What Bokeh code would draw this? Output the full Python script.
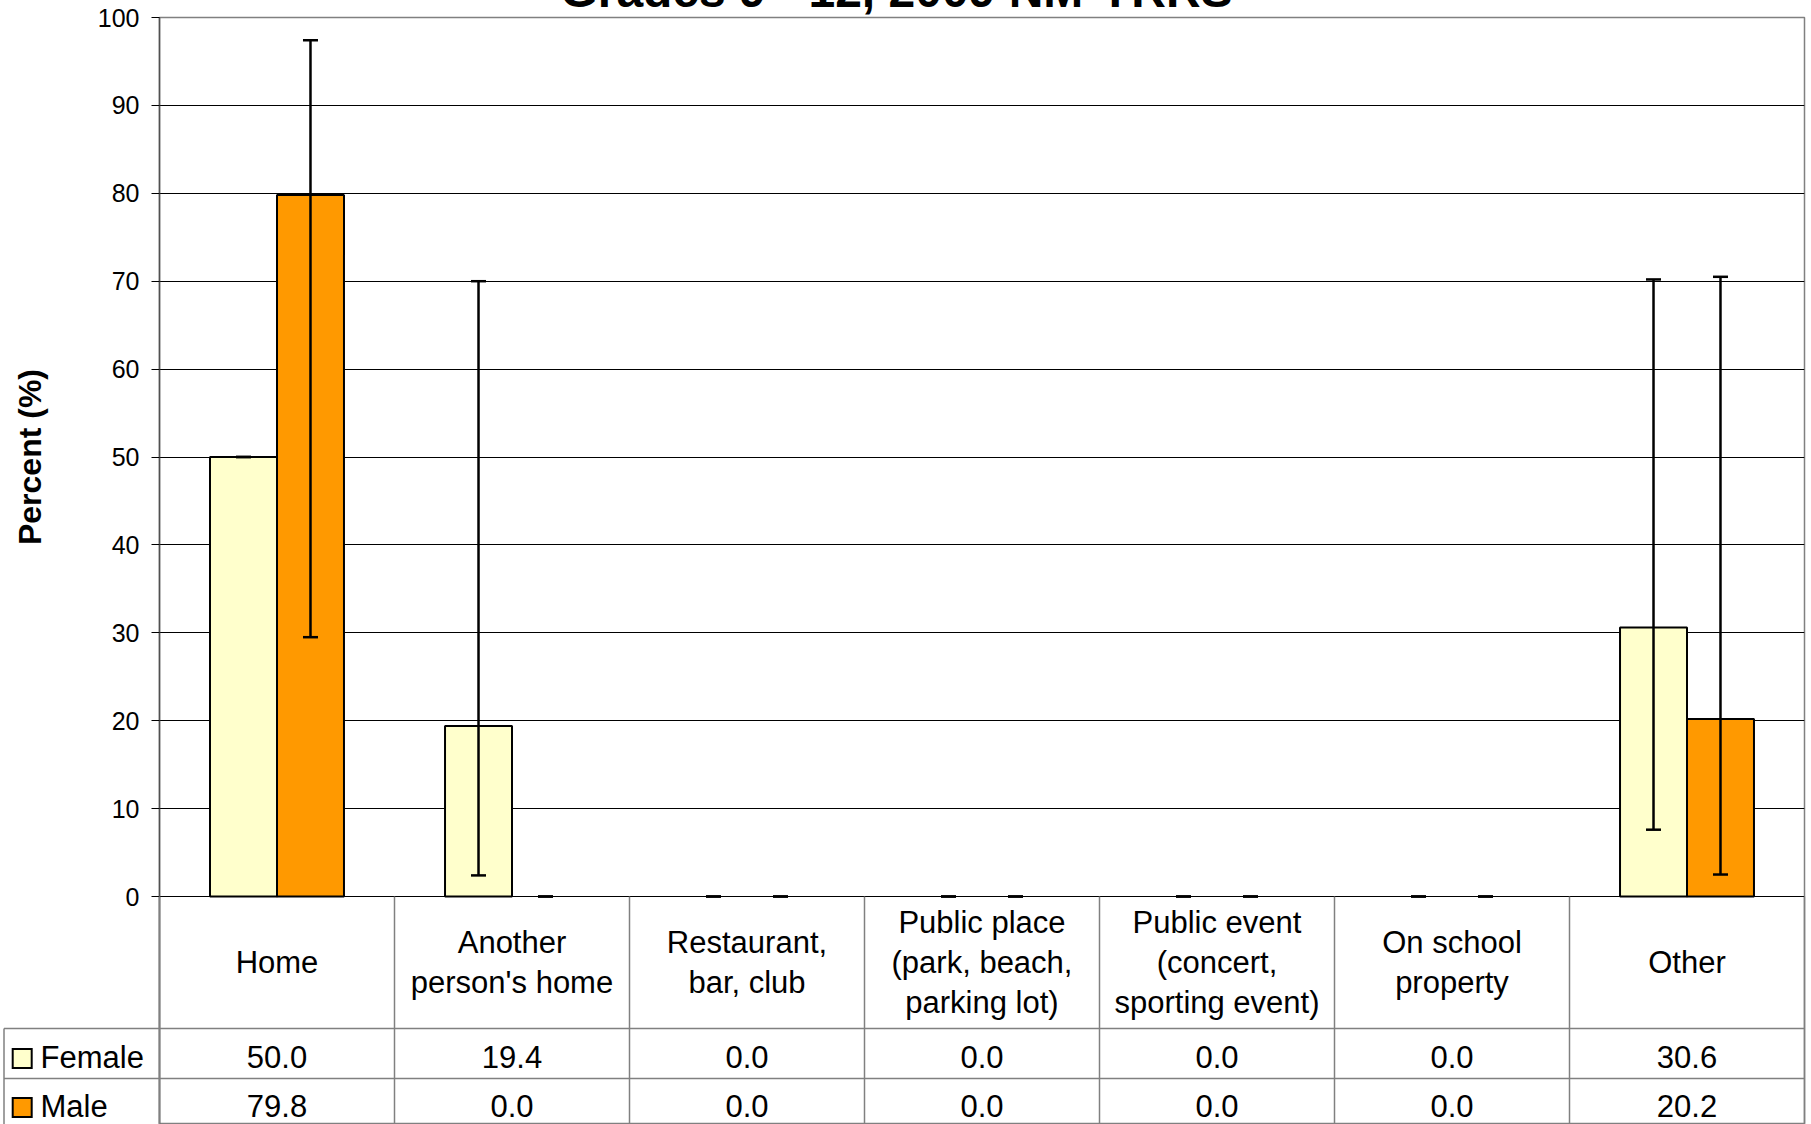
import math
from bokeh.plotting import figure
from bokeh.models import Range1d, ColumnDataSource, Whisker, TeeHead, FixedTicker
from bokeh.embed import file_html
from bokeh.resources import INLINE
from bokeh.core.properties import value

# ---- data ----
categories = ["Home", "Another\nperson's home", "Restaurant,\nbar, club",
              "Public place\n(park, beach,\nparking lot)",
              "Public event\n(concert,\nsporting event)",
              "On school\nproperty", "Other"]
series_names = ["Female", "Male"]
female = [50.0, 19.4, 0.0, 0.0, 0.0, 0.0, 30.6]
male = [79.8, 0.0, 0.0, 0.0, 0.0, 0.0, 20.2]
female_lower = [50.0, 2.4, 0.0, 0.0, 0.0, 0.0, 7.6]
female_upper = [50.0, 70.0, 0.0, 0.0, 0.0, 0.0, 70.2]
male_lower = [29.5, 0.0, 0.0, 0.0, 0.0, 0.0, 2.5]
male_upper = [97.4, 0.0, 0.0, 0.0, 0.0, 0.0, 70.5]
y_ticks = [0, 10, 20, 30, 40, 50, 60, 70, 80, 90, 100]
title_text = "Grades 9 - 12, 2009 NM-YRRS"
y_label = "Percent (%)"
colors = ["#FFFFCC", "#FF9900"]

# ---- geometry (pixels) ----
FONT = "Liberation Sans"
W, H = 1810, 1124
F_LEFT, F_RIGHT, F_TOP, ZERO_Y = 159, 1804, 17, 896
n = len(categories)
cat_w = (F_RIGHT - F_LEFT) / n
px_per = (ZERO_Y - F_TOP) / 100.0


def xu(px):
    return (px - F_LEFT) / cat_w


def yv(py):
    return (ZERO_Y - py) / px_per


bw = 0.285
centers = [i + 0.5 for i in range(n)]
xf = [c - bw / 2 for c in centers]
xm = [c + bw / 2 for c in centers]

p = figure(width=W, height=H, x_range=Range1d(0, n), y_range=Range1d(yv(H), 100),
           output_backend="svg", toolbar_location=None, x_axis_type=None,
           min_border_left=F_LEFT, min_border_right=W - F_RIGHT,
           min_border_top=F_TOP, min_border_bottom=0)
p.outline_line_color = "#808080"
p.outline_line_width = 1.5
p.xgrid.visible = False
p.ygrid.grid_line_color = "black"
p.ygrid.grid_line_width = 1
p.yaxis.ticker = FixedTicker(ticks=y_ticks)
p.yaxis.minor_tick_line_color = None
p.yaxis.major_tick_out = 8
p.yaxis.major_tick_in = 0
p.yaxis.major_tick_line_color = "black"
p.yaxis.axis_line_color = "#505050"
p.yaxis.axis_line_width = 1.5
p.yaxis.major_label_text_font = FONT
p.yaxis.major_label_text_font_size = "25px"
p.yaxis.major_label_text_color = "black"
p.yaxis.major_label_standoff = 12

# y-axis title, centred on the 0-100 part of the axis
p.text(x=[xu(29)], y=[50], text=[y_label], angle=math.pi / 2,
       text_align="center", text_baseline="middle", text_font=value(FONT),
       text_font_style="bold", text_font_size="32px", text_color="black",
       level="overlay")

# bars (zero bars have no visible outline, only their error caps)
p.vbar(x=xf, top=female, bottom=0, width=bw, fill_color=colors[0],
       line_color="black", line_width=2,
       line_alpha=[1.0 if v > 0 else 0.0 for v in female])
p.vbar(x=xm, top=male, bottom=0, width=bw, fill_color=colors[1],
       line_color="black", line_width=2,
       line_alpha=[1.0 if v > 0 else 0.0 for v in male])

# error bars
for xs, lo, hi in ((xf, female_lower, female_upper), (xm, male_lower, male_upper)):
    src = ColumnDataSource(dict(x=xs, lower=lo, upper=hi))
    wk = Whisker(base="x", lower="lower", upper="upper", source=src, level="overlay",
                 line_color="black", line_width=2.5,
                 upper_head=TeeHead(size=15, line_width=2.5, line_color="black"),
                 lower_head=TeeHead(size=15, line_width=2.5, line_color="black"))
    p.add_layout(wk)

# title (cut off at the top as in the original)
p.text(x=[xu(896)], y=[yv(-10)], text=[title_text], text_align="center",
       text_baseline="alphabetic", text_font=value(FONT), text_font_style="bold",
       text_font_size="48px", text_color="black", level="overlay")

# ---- data table ----
grid_col = "#808080"
row1, row2 = 1028, 1078
p.segment(x0=[xu(3.5), xu(3.5)], y0=[yv(row1), yv(row2)], x1=[n, n],
          y1=[yv(row1), yv(row2)], line_color=grid_col, line_width=1.5, level="overlay")
vx = list(range(1, n + 1))
p.segment(x0=vx, y0=[0] * n, x1=vx, y1=[yv(H)] * n,
          line_color=grid_col, line_width=1.5, level="overlay")
p.segment(x0=[xu(3.5)], y0=[yv(row1)], x1=[xu(3.5)], y1=[yv(H)],
          line_color=grid_col, line_width=1.5, level="overlay")
# lower part of the left axis line is the grey table border
p.segment(x0=[0], y0=[0], x1=[0], y1=[yv(H)], line_color=grid_col, line_width=1.5,
          level="overlay")

p.text(x=centers, y=[yv(962)] * n, text=categories, text_align="center",
       text_baseline="middle", text_font=value(FONT), text_font_size="31px",
       text_line_height=1.15, text_color="black")
p.text(x=centers, y=[yv(1056)] * n, text=["%.1f" % v for v in female],
       text_align="center", text_baseline="middle", text_font=value(FONT),
       text_font_size="31px", text_color="black")
p.text(x=centers, y=[yv(1105)] * n, text=["%.1f" % v for v in male],
       text_align="center", text_baseline="middle", text_font=value(FONT),
       text_font_size="31px", text_color="black")

# legend keys in the table's first column (bordered squares)
key_y = [yv(1058), yv(1107)]
p.segment(x0=[xu(11.2)] * 2, y0=key_y, x1=[xu(32.2)] * 2, y1=key_y,
          line_color="black", line_width=21, level="overlay")
p.segment(x0=[xu(13.2)] * 2, y0=key_y, x1=[xu(30.2)] * 2, y1=key_y,
          line_color=colors, line_width=17, level="overlay")
p.text(x=[xu(40)] * 2, y=[yv(1057), yv(1106)], text=series_names, text_align="left",
       text_baseline="middle", text_font=value(FONT), text_font_size="31px",
       text_color="black", level="overlay")

open("out.html", "w").write(file_html(p, INLINE))
